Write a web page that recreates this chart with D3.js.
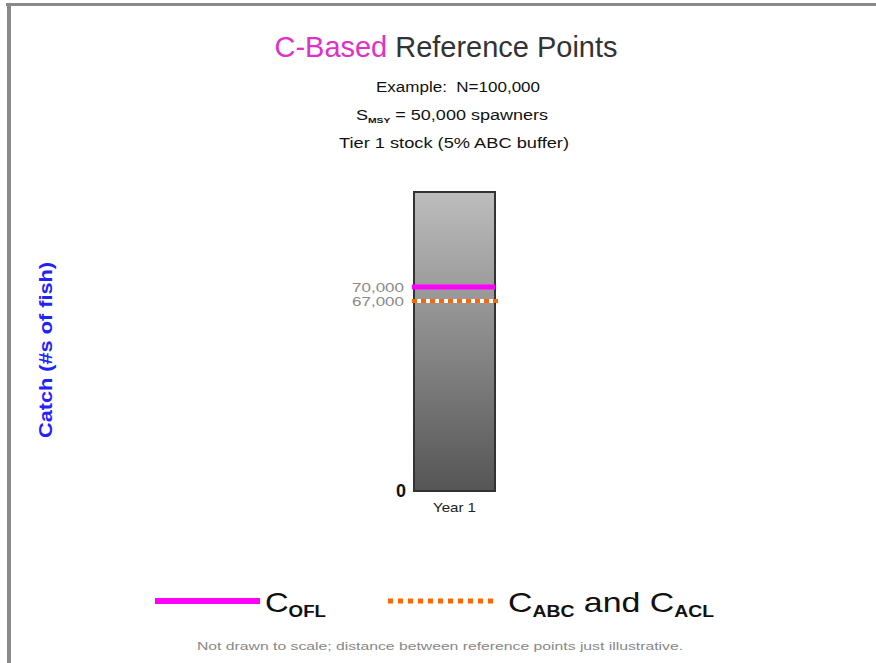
<!DOCTYPE html>
<html><head><meta charset="utf-8">
<script src="https://cdn.jsdelivr.net/npm/d3@7"></script>
<style>body{margin:0;background:#fff}svg{display:block}text{font-family:Arial,"Liberation Sans",sans-serif}</style>
</head><body><svg id="c" width="876" height="663"></svg>
<script>
const categories = ["Year 1"];
const stockN = 100000;
const refValues = [70000, 67000];
const refNames = ["C_OFL", "C_ABC and C_ACL"];
const tickLabels = ["0", "70,000", "67,000"];
const tickValues = [0, 70000, 67000];

const svg = d3.select("#c");
// frame
svg.append("line").attr("x1",6).attr("x2",876).attr("y1",4.5).attr("y2",4.5).attr("stroke","#8a8a8a").attr("stroke-width",3);
svg.append("line").attr("x1",9).attr("x2",9).attr("y1",4).attr("y2",663).attr("stroke","#8a8a8a").attr("stroke-width",4);

// Not to scale: polylinear scale
const y = d3.scaleLinear().domain([0, 67000, 70000, stockN]).range([491, 301, 287, 192]);
const x = d3.scaleBand().domain(categories).range([414, 495]).padding(0);

const defs = svg.append("defs");
const g = defs.append("linearGradient").attr("id","bg").attr("x1",0).attr("y1",0).attr("x2",0).attr("y2",1);
g.append("stop").attr("offset","0%").attr("stop-color","#bdbdbd");
g.append("stop").attr("offset","100%").attr("stop-color","#555555");

svg.selectAll("rect.bar").data(categories).enter().append("rect")
  .attr("x", d=>x(d)).attr("y", y(stockN)).attr("width", x.bandwidth()).attr("height", y(0)-y(stockN))
  .attr("fill","url(#bg)").attr("stroke","#333").attr("stroke-width",2);

// reference lines
svg.append("line").attr("x1",412).attr("x2",495).attr("y1",y(refValues[0])).attr("y2",y(refValues[0]))
  .attr("stroke","#ff00ff").attr("stroke-width",5);
svg.append("line").attr("x1",412).attr("x2",499).attr("y1",y(refValues[1])).attr("y2",y(refValues[1]))
  .attr("stroke","#fff").attr("stroke-width",4);
svg.append("line").attr("x1",412).attr("x2",499).attr("y1",y(refValues[1])).attr("y2",y(refValues[1]))
  .attr("stroke","#ff6600").attr("stroke-width",4).attr("stroke-dasharray","5,4");

// tick labels
tickValues.forEach((v,i)=>{
  const t = svg.append("text").attr("x", v===0?406:404).attr("y", y(v)).attr("dy","0.35em").attr("text-anchor","end")
    .text(tickLabels[i]);
  if (v===0) t.attr("font-size",18).attr("font-weight","bold").attr("fill","#111");
  else t.attr("font-size",13).attr("fill","#8a8a8a").attr("textLength",52).attr("lengthAdjust","spacingAndGlyphs");
});
svg.selectAll("text.cat").data(categories).enter().append("text")
  .attr("x", d=>x(d)+x.bandwidth()/2).attr("y",512).attr("text-anchor","middle")
  .attr("font-size",13).attr("fill","#222").attr("textLength",43).attr("lengthAdjust","spacingAndGlyphs").text(d=>d);

// title
const title = svg.append("text").attr("x",446).attr("y",57).attr("text-anchor","middle").attr("font-size",29)
  .attr("textLength",343).attr("lengthAdjust","spacingAndGlyphs");
title.append("tspan").attr("fill","#e030c8").text("C-Based ");
title.append("tspan").attr("fill","#333").text("Reference Points");
svg.append("text").attr("x",458).attr("y",92).attr("text-anchor","middle").attr("font-size",14).attr("fill","#111")
  .attr("textLength",164).attr("lengthAdjust","spacingAndGlyphs").text("Example:\u00a0 N=100,000");
const s2 = svg.append("text").attr("x",452).attr("y",120).attr("text-anchor","middle").attr("font-size",14).attr("fill","#111")
  .attr("textLength",192).attr("lengthAdjust","spacingAndGlyphs");
s2.append("tspan").text("S");
s2.append("tspan").attr("font-size",8).attr("font-weight","bold").attr("dy",3).text("MSY");
s2.append("tspan").attr("dy",-3).text(" = 50,000 spawners");
svg.append("text").attr("x",454).attr("y",148).attr("text-anchor","middle").attr("font-size",14).attr("fill","#111")
  .attr("textLength",230).attr("lengthAdjust","spacingAndGlyphs").text("Tier 1 stock (5% ABC buffer)");

// y label
svg.append("text").attr("transform","translate(52,350) rotate(-90)").attr("text-anchor","middle")
  .attr("font-size",19).attr("font-weight","bold").attr("fill","#2222ff")
  .attr("textLength",176).attr("lengthAdjust","spacingAndGlyphs").text("Catch (#s of fish)");

// legend
svg.append("line").attr("x1",155).attr("x2",260).attr("y1",601).attr("y2",601).attr("stroke","#ff00ff").attr("stroke-width",6);
const l1 = svg.append("text").attr("x",265).attr("y",612).attr("font-size",28).attr("fill","#111")
  .attr("textLength",61).attr("lengthAdjust","spacingAndGlyphs");
l1.append("tspan").text("C");
l1.append("tspan").attr("font-size",16).attr("font-weight","bold").attr("dy",5).text("OFL");
svg.append("line").attr("x1",388).attr("x2",495).attr("y1",601).attr("y2",601).attr("stroke","#ff6600").attr("stroke-width",5).attr("stroke-dasharray","5,5");
const l2 = svg.append("text").attr("x",508).attr("y",612).attr("font-size",28).attr("fill","#111")
  .attr("textLength",206).attr("lengthAdjust","spacingAndGlyphs");
l2.append("tspan").text("C");
l2.append("tspan").attr("font-size",16).attr("font-weight","bold").attr("dy",5).text("ABC");
l2.append("tspan").attr("dy",-5).text(" and C");
l2.append("tspan").attr("font-size",16).attr("font-weight","bold").attr("dy",5).text("ACL");

svg.append("text").attr("x",440).attr("y",650).attr("text-anchor","middle").attr("font-size",11).attr("fill","#888")
  .attr("textLength",486).attr("lengthAdjust","spacingAndGlyphs")
  .text("Not drawn to scale; distance between reference points just illustrative.");
</script></body></html>
